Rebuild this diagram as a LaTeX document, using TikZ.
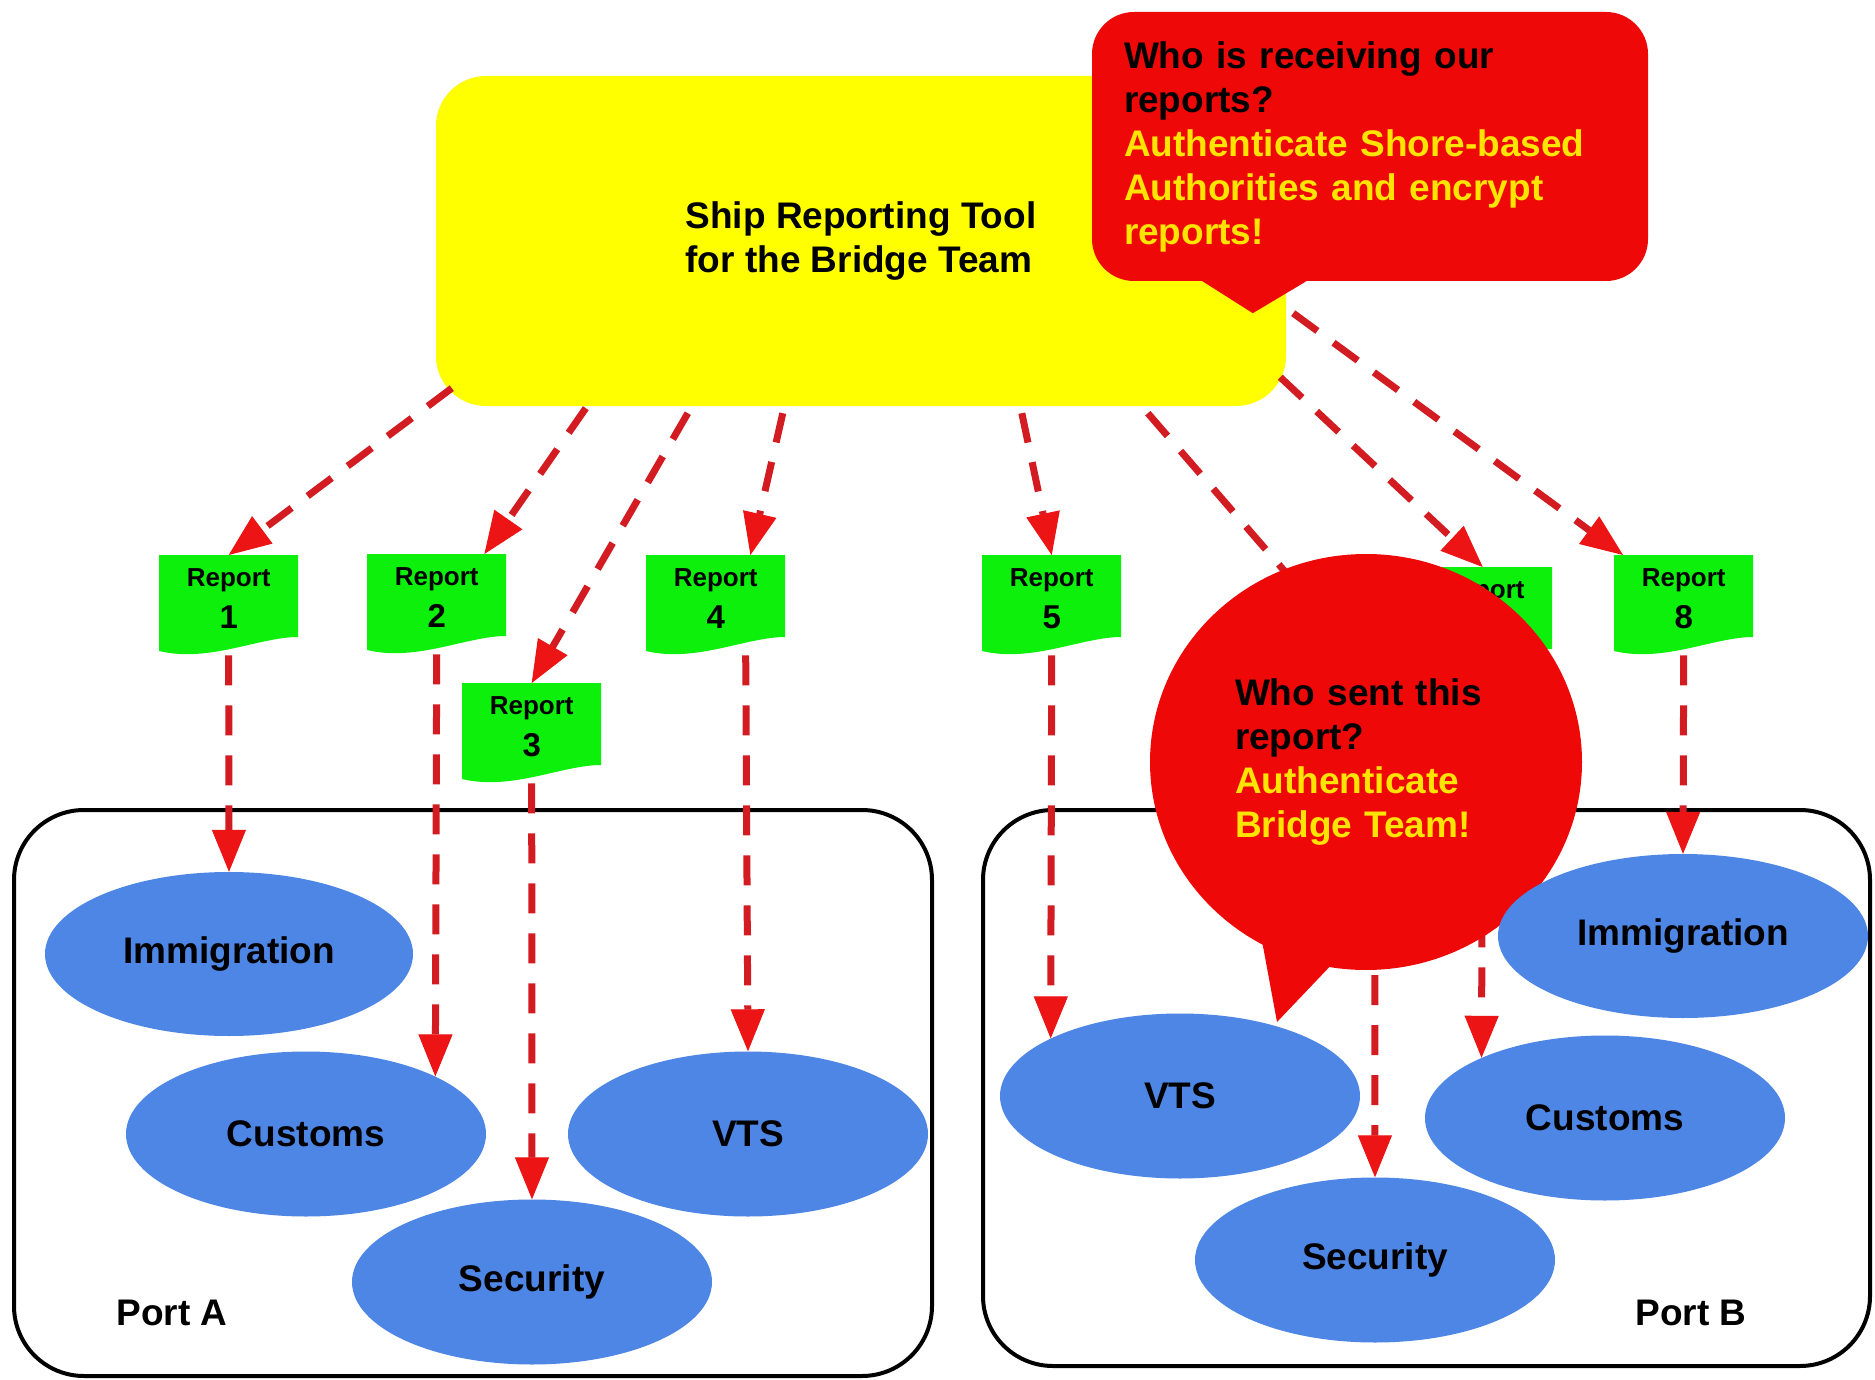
\documentclass[tikz,border=0pt]{standalone}
\usepackage{fontspec}
\setmainfont{Liberation Sans}
\usetikzlibrary{arrows.meta,shapes.geometric,calc}
\definecolor{shipyellow}{RGB}{255,255,0}
\definecolor{callred}{RGB}{238,8,8}
\definecolor{tyellow}{RGB}{255,228,0}
\definecolor{repgreen}{RGB}{12,240,12}
\definecolor{agblue}{RGB}{78,134,230}
\definecolor{dashred}{RGB}{210,28,34}
\definecolor{tipred}{RGB}{236,20,20}
\newcommand\bigfont{\fontsize{37}{44}\selectfont\bfseries}
\tikzset{
  shipbox/.style={rectangle, fill=shipyellow, rounded corners=50pt, minimum width=850pt, minimum height=330pt, inner sep=0pt, align=left, font=\bigfont},
  callbox/.style={rectangle, fill=callred, rounded corners=42pt, minimum width=556pt, minimum height=269pt, inner sep=0pt, text width=492pt, align=left, font=\bigfont},
  callcircle/.style={ellipse, fill=callred, minimum width=432pt, minimum height=416pt, inner sep=0pt, text width=262pt, align=left, font=\bigfont},
  agency/.style={ellipse, fill=agblue, minimum width=360pt, minimum height=165pt, inner sep=0pt, font=\bigfont},
  portbox/.style={rectangle, draw=black, line width=4pt, rounded corners=70pt, inner sep=0pt},
  portlabel/.style={font=\bigfont, inner sep=0pt},
  repbox/.style={rectangle, minimum width=139pt, minimum height=100pt, inner sep=0pt, anchor=north west},
  reptext/.style={font=\fontsize{26}{30}\selectfont\bfseries, inner sep=0pt, anchor=base},
  repnum/.style={font=\fontsize{33}{36}\selectfont\bfseries, inner sep=0pt, anchor=base},
  flow/.style={draw=dashred, line width=7pt, dash pattern=on 30pt off 20pt,
    -{Triangle[length=42pt,width=34pt,line width=1pt,color=tipred,fill=tipred]}},
}
\newcommand\reportat[4]{%
  \fill[repgreen, shift={(#2,#3)}] (0,0) -- (139,0) -- (139,82) .. controls (100,82) and (50,108) .. (0,96) -- cycle;
  \node[repbox] (#1) at (#2,#3) {};
  \node[reptext] (#1t) at ($(#1.north)+(0,31)$) {Report};
  \node[repnum] (#1n) at ($(#1.north)+(0,73)$) {#4};
}
\begin{document}
\begin{tikzpicture}[x=1pt,y=-1pt]
\fill[white] (0,0) rectangle (1875,1380);
\useasboundingbox (0,0) rectangle (1875,1380);

% ports
\node[portbox, minimum width=918pt, minimum height=566pt] (portA) at (473,1093) {};
\node[portbox, minimum width=887pt, minimum height=556pt] (portB) at (1426.5,1088) {};
\node[portlabel] (portAl) at (172,1313) {Port A};
\node[portlabel] (portBl) at (1691,1313) {Port B};

% agencies port A
\node[agency, minimum width=368pt, minimum height=164pt] (immA) at (229,954) {Immigration};
\node[agency] (cusA) at (306,1134) {Customs};
\node[agency] (vtsA) at (748,1134) {VTS};
\node[agency] (secA) at (532,1282) {Security};
% agencies port B
\node[agency] (vtsB) at (1180,1096) {VTS};
\node[agency] (secB) at (1375,1260) {Security};
\node[agency] (cusB) at (1605,1118) {Customs};

% reports
\reportat{r1}{159}{555}{1}
\reportat{r2}{367}{554}{2}
\reportat{r3}{462}{683}{3}
\reportat{r4}{646}{555}{4}
\reportat{r5}{982}{555}{5}
\reportat{r7}{1413}{567}{7}
\reportat{r8}{1614}{555}{8}
% the sixth report lies hidden behind the round callout
\coordinate (r6in) at (1374.5,675);
\coordinate (r6out) at (1374.5,775);

% ship reporting tool
\node[shipbox] (ship) at (861,241) {Ship Reporting Tool\\for the Bridge Team};

% arrows ship -> reports
\draw[flow] ($(ship.south west)+(16,-18)$) -- (r1.north);
\draw[flow] ($(ship.south west)+(150,2)$) -- ($(r2.north east)+(-22,0)$);
\draw[flow] ($(ship.south west)+(252,7)$) -- (r3.north);
\draw[flow] ($(ship.south west)+(347,7)$) -- ($(r4.north east)+(-35,0)$);
\draw[flow] ($(ship.south west)+(586,7)$) -- (r5.north);
\draw[flow] ($(ship.south west)+(712,7)$) -- (r6in);
\draw[flow] ($(ship.south east)+(-6,-29)$) -- (r7.north);
\draw[flow] ($(ship.south east)+(7,-93)$) -- ($(r8.north west)+(9,0)$);

% arrows reports -> agencies
\draw[flow] (r1.south) -- (immA.north);
\draw[flow] (r2.south) -- (cusA.24);
\draw[flow] (r3.south) -- (secA.north);
\draw[flow] ([xshift=30pt]r4.south) -- (vtsA.north);
\draw[flow] (r5.south) -- (vtsB.156);
\draw[flow] (r6out) -- (secB.north);
\draw[flow] (r7.south) -- (cusB.154);

% top callout
\node[callbox] (q1) at (1370,146.5) {Who is receiving our\\reports?\\\color{tyellow}Authenticate Shore-based\\Authorities and encrypt\\reports!};
\fill[callred] ($(q1.south west)+(98,-8)$) -- ($(q1.south west)+(161,32)$) -- ($(q1.south west)+(228,-8)$) -- cycle;

% circle callout
\fill[callred] ($(1366,762)+(-106,168)$) -- ($(1366,762)+(-89,260)$) -- ($(1366,762)+(-30,198)$) -- cycle;
\node[callcircle] (q2) at (1366,762) {Who sent this\\report?\\\color{tyellow}Authenticate\\Bridge Team!};

% immigration port B on top
\node[agency, minimum width=370pt, minimum height=164pt] (immB) at (1683,936) {Immigration};
\draw[flow] (r8.south) -- (immB.north);
\end{tikzpicture}
\end{document}
